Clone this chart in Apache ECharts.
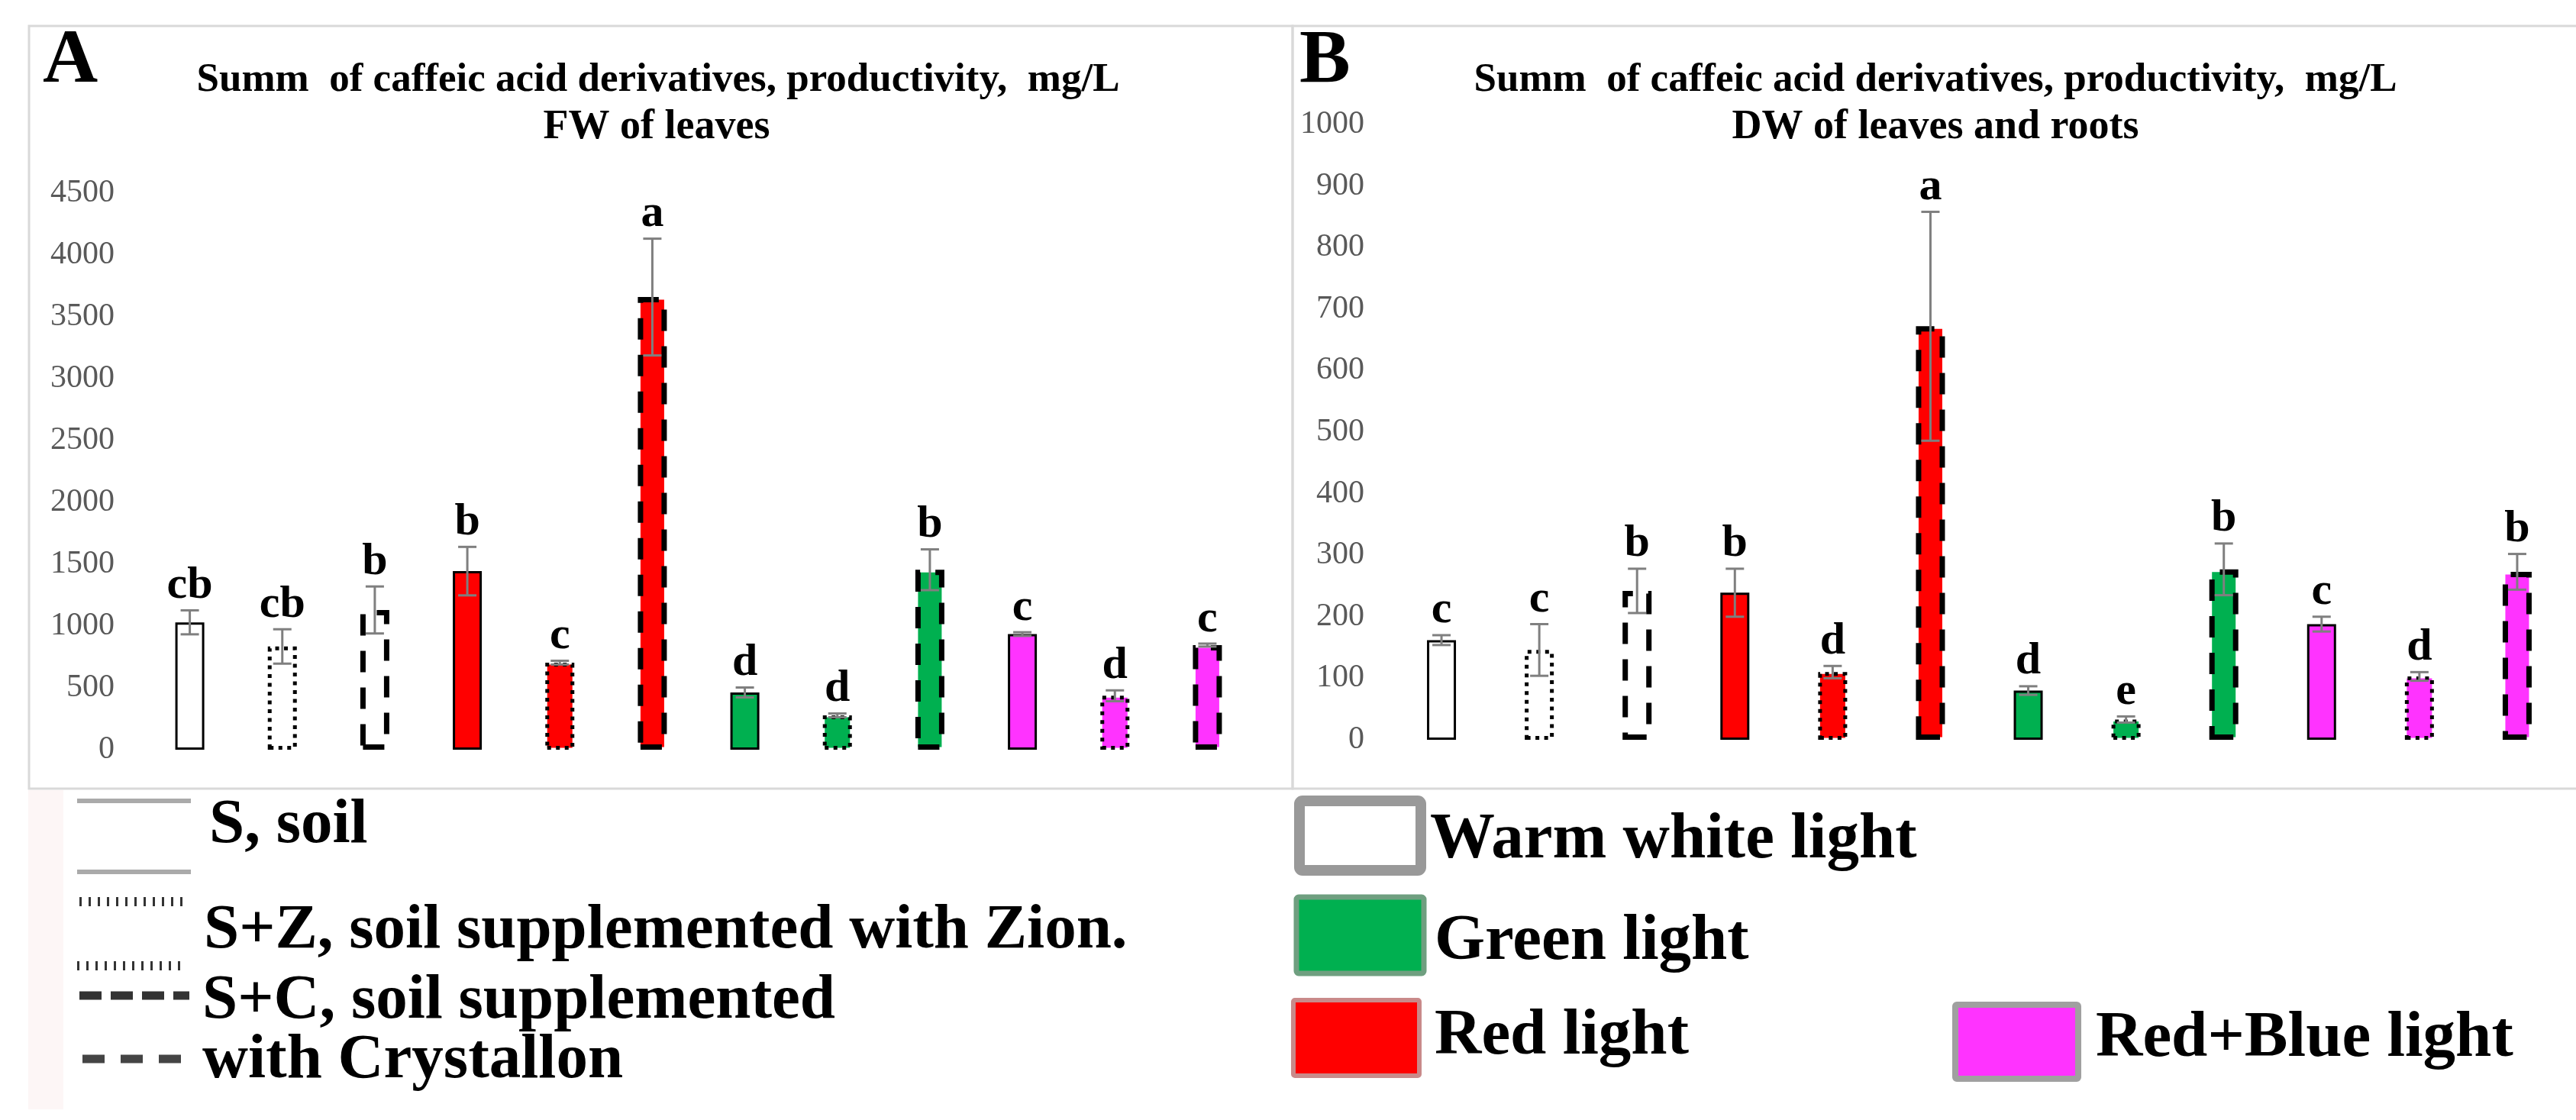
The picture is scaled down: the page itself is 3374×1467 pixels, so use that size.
<!DOCTYPE html>
<html><head><meta charset="utf-8">
<script src="https://cdn.jsdelivr.net/npm/echarts@6/dist/echarts.min.js"></script>
<style>html,body{margin:0;padding:0;background:#fff}#c{width:3374px;height:1467px}</style>
</head><body><div id="c"></div>
<script>
// ---- data ----
const categories = ['Warm white S','Warm white S+Z','Warm white S+C','Red S','Red S+Z','Red S+C','Green S','Green S+Z','Green S+C','Red+Blue S','Red+Blue S+Z','Red+Blue S+C'];
const lightOfBar = ['white','white','white','red','red','red','green','green','green','magenta','magenta','magenta'];
const substrateOfBar = ['S','S+Z','S+C','S','S+Z','S+C','S','S+Z','S+C','S','S+Z','S+C'];
const valuesA = [1030, 835, 1130, 1444, 704, 3660, 463, 278, 1455, 935, 436, 846];
const errorsA = [97, 139, 190, 196, 15, 472, 40, 15, 165, 15, 44, 12];
const lettersA = ['cb','cb','b','b','c','a','d','d','b','c','d','c'];
const valuesB = [162, 146, 242, 239, 110, 672, 80, 33, 277, 188, 103, 273];
const errorsB = [8, 42, 36, 39, 10, 186, 7, 5, 42, 12, 7, 29];
const lettersB = ['c','c','b','b','d','a','d','e','b','c','d','b'];
const axisA = [0, 4500, 500];   // min, max, interval
const axisB = [0, 1000, 100];
const titleA = ['Summ  of caffeic acid derivatives, productivity,  mg/L', 'FW of leaves'];
const titleB = ['Summ  of caffeic acid derivatives, productivity,  mg/L', 'DW of leaves and roots'];
const substrateLegend = ['S, soil', 'S+Z, soil supplemented with Zion.', 'S+C, soil supplemented', 'with Crystallon'];
const lightLegend = ['Warm white light', 'Green light', 'Red light', 'Red+Blue light'];

// ---- styles ----
const FONT = 'Liberation Serif';
const lightColor = {white:'#FFFFFF', red:'#FF0000', green:'#00B050', magenta:'#FF33FF'};
const borderStyle = {
  'S':   {type:'solid', width:3},
  'S+Z': {type:[5, 6.5], width:5},
  'S+C': {type:[28, 20], width:7}
};

function barData(values){
  return values.map((v,i)=>{
    const b = borderStyle[substrateOfBar[i]];
    return {value:v, itemStyle:{color:lightColor[lightOfBar[i]], borderColor:'#000', borderWidth:b.width, borderType:b.type}};
  });
}
function errSeries(values, errors, letters, idx){
  return {
    type:'custom', xAxisIndex:idx, yAxisIndex:idx, z:10,
    data: values.map((v,i)=>[i, v, errors[i]]),
    encode:{x:0, y:1},
    renderItem:function(params, api){
      const i = api.value(0), v = api.value(1), e = api.value(2);
      const t = api.coord([i, v+e]), b = api.coord([i, v-e]);
      const x = t[0], hw = 12;
      const st = {stroke:'#7f7f7f', lineWidth:3};
      return {type:'group', children:[
        {type:'line', shape:{x1:x,y1:t[1],x2:x,y2:b[1]}, style:st},
        {type:'line', shape:{x1:x-hw,y1:t[1],x2:x+hw,y2:t[1]}, style:st},
        {type:'line', shape:{x1:x-hw,y1:b[1],x2:x+hw,y2:b[1]}, style:st},
        {type:'text', x:x, y:t[1]-32, style:{text:letters[params.dataIndex], font:'bold 60px "'+FONT+'"', fill:'#000', align:'center', verticalAlign:'middle'}}
      ]};
    }
  };
}

function txt(text, x, y, size, align, bold){
  return {type:'text', x:x, y:y, z:20, style:{text:text, font:(bold===false?'':'bold ')+size+'px "'+FONT+'"', fill:'#000', align:align||'left', verticalAlign:'middle'}};
}

const graphics = [
  // frames
  {type:'rect', shape:{x:38,y:34,width:1655,height:999}, style:{fill:'none', stroke:'#d9d9d9', lineWidth:3}, z:0},
  {type:'rect', shape:{x:1693,y:34,width:1700,height:999}, style:{fill:'none', stroke:'#d9d9d9', lineWidth:3}, z:0},
  {type:'rect', shape:{x:37,y:1035,width:46,height:418}, style:{fill:'#fdf6f6'}, z:0},
  // panel letters & titles
  txt('A', 56, 81, 100, 'left'),
  txt('B', 1702, 81, 100, 'left'),
  txt(titleA[0], 862, 105, 53, 'center'),
  txt(titleA[1], 860, 167, 54, 'center'),
  txt(titleB[0], 2535, 105, 53, 'center'),
  txt(titleB[1], 2535, 167, 54, 'center'),
  // substrate legend
  {type:'line', shape:{x1:101,y1:1049,x2:250,y2:1049}, style:{stroke:'#aaaaaa', lineWidth:6}},
  {type:'line', shape:{x1:101,y1:1142,x2:250,y2:1142}, style:{stroke:'#aaaaaa', lineWidth:6}},
  {type:'line', shape:{x1:104,y1:1181,x2:248,y2:1181}, style:{stroke:'#333', lineWidth:12, lineDash:[3,9]}},
  {type:'line', shape:{x1:101,y1:1265,x2:245,y2:1265}, style:{stroke:'#333', lineWidth:12, lineDash:[3,9]}},
  {type:'line', shape:{x1:104,y1:1304,x2:248,y2:1304}, style:{stroke:'#333', lineWidth:11, lineDash:[29,12]}},
  {type:'line', shape:{x1:108,y1:1387,x2:241,y2:1387}, style:{stroke:'#444', lineWidth:11, lineDash:[29,21]}},
  txt(substrateLegend[0], 274, 1082, 83),
  txt(substrateLegend[1], 267, 1220, 83),
  txt(substrateLegend[2], 265, 1312, 83),
  txt(substrateLegend[3], 265, 1390, 83),
  // light legend
  {type:'rect', shape:{x:1702,y:1049,width:159,height:91,r:4}, style:{fill:'#fff', stroke:'#999', lineWidth:14}},
  {type:'rect', shape:{x:1698,y:1175,width:167,height:100,r:3}, style:{fill:lightColor.green, stroke:'#6f9f80', lineWidth:7}},
  {type:'rect', shape:{x:1694,y:1310,width:165,height:99,r:2}, style:{fill:lightColor.red, stroke:'#c98a8a', lineWidth:6}},
  {type:'rect', shape:{x:2561,y:1316,width:161,height:97,r:2}, style:{fill:lightColor.magenta, stroke:'#a0a0a0', lineWidth:8}},
  txt(lightLegend[0], 1873, 1101, 85),
  txt(lightLegend[1], 1879, 1234, 85),
  txt(lightLegend[2], 1879, 1358, 85),
  txt(lightLegend[3], 2745, 1361, 85)
];

function xAx(idx){
  return {type:'category', gridIndex:idx, data:categories, axisLine:{show:false}, axisTick:{show:false}, axisLabel:{show:false}, splitLine:{show:false}};
}
function yAx(idx, ax, margin){
  return {type:'value', gridIndex:idx, min:ax[0], max:ax[1], interval:ax[2], axisLine:{show:false}, axisTick:{show:false}, splitLine:{show:false},
    axisLabel:{margin:margin, color:'#595959', fontFamily:FONT, fontSize:42, formatter:function(v){return String(v);}}};
}

const chart = echarts.init(document.getElementById('c'), null, {renderer:'canvas'});
chart.setOption({
  animation:false,
  backgroundColor:'#fff',
  grid:[
    {left:188, top:253, width:1454, height:729},
    {left:1824, top:163, width:1537, height:806}
  ],
  xAxis:[xAx(0), xAx(1)],
  yAxis:[yAx(0, axisA, 38), yAx(1, axisB, 37)],
  series:[
    {type:'bar', xAxisIndex:0, yAxisIndex:0, barWidth:38, data:barData(valuesA)},
    errSeries(valuesA, errorsA, lettersA, 0),
    {type:'bar', xAxisIndex:1, yAxisIndex:1, barWidth:38, data:barData(valuesB)},
    errSeries(valuesB, errorsB, lettersB, 1)
  ],
  graphic:graphics
});
</script></body></html>
